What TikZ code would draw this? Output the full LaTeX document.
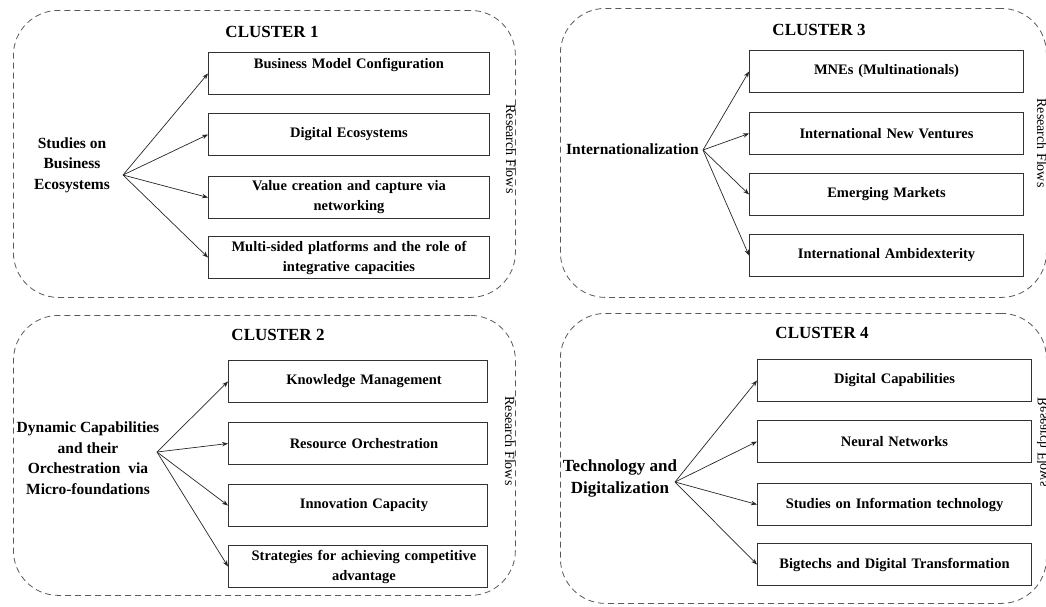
\documentclass[tikz,border=0pt]{standalone}
\usepackage{fontspec}
\setmainfont{Liberation Serif}
\usetikzlibrary{arrows.meta}
\begin{document}
\begin{tikzpicture}[x=1pt, y=-1pt,
  cluster/.style={draw=black!65, dash pattern=on 6pt off 4pt, line width=0.8pt,
    rounded corners=45pt, inner sep=0pt, anchor=north west},
  topic/.style={draw=black!80, line width=1pt, inner sep=0pt, minimum height=42pt,
    anchor=north west, align=center, font=\fontsize{14.5}{20}\selectfont\bfseries},
  title/.style={font=\fontsize{17}{20}\selectfont\bfseries},
  theme/.style={font=\fontsize{15.5}{20.5}\selectfont\bfseries, align=center, inner sep=0pt},
  flows/.style={font=\fontsize{14}{16}\selectfont, inner sep=0pt},
  arr/.style={draw=black!85, line width=0.7pt, -{Stealth[length=6pt,width=4.5pt]}}
]
\useasboundingbox (0,0) rectangle (1046,606);
\clip (0,0) rectangle (1046,606);

% ---------- cluster frames ----------
\node[cluster, minimum width=502pt, minimum height=287pt] (cl1) at (13,10) {};
\node[cluster, minimum width=502pt, minimum height=280pt] (cl2) at (13,315) {};
\node[cluster, minimum width=486pt, minimum height=289pt] (cl3) at (560,8) {};
\node[cluster, minimum width=486pt, minimum height=290pt] (cl4) at (560,313) {};

% ---------- titles ----------
\node[title] (t1) at (272,32) {CLUSTER 1};
\node[title] (t2) at (278,335) {CLUSTER 2};
\node[title] (t3) at (819,30) {CLUSTER 3};
\node[title] (t4) at (822,333) {CLUSTER 4};

% ---------- side captions ----------
\node[flows, rotate=-90] (f1) at (511,149) {Research Flows};
\node[flows, rotate=-90] (f2) at (510,441) {Research Flows};
\node[flows, rotate=-90] (f3) at (1042,143) {Research Flows};
\node[flows, yscale=-1, rotate=90] (f4) at (1042,442) {Research Flows};

% ---------- cluster 1 ----------
\node[theme] (m1) at (72,165) {Studies on\\Business\\Ecosystems};
\coordinate (o1) at (123,175);
\begin{scope}[every node/.append style={topic, minimum width=281pt, text width=269pt}]
\node (a1) at (208,52)  {Business Model Configuration\\\mbox{}};
\node (a2) at (208,113) {Digital Ecosystems};
\node (a3) at (208,176) {Value creation and capture via\\networking};
\node (a4) at (208,236) {Multi-sided platforms and the role of\\integrative capacities};
\end{scope}
\foreach \b in {a1,a2,a3,a4} \draw[arr] (o1) -- (\b.west);

% ---------- cluster 2 ----------
\node[theme] (m2) at (88,458) {Dynamic Capabilities\\and their\\Orchestration~ via\\Micro-foundations};
\coordinate (o2) at (157,452);
\begin{scope}[every node/.append style={topic, minimum width=259pt, text width=247pt}]
\node (b1) at (228,360) {\hspace*{12pt}Knowledge Management};
\node (b2) at (228,422) {\hspace*{12pt}Resource Orchestration};
\node (b3) at (228,484) {\hspace*{12pt}Innovation Capacity};
\node (b4) at (228,545) {\hspace*{12pt}Strategies for achieving competitive\\\hspace*{12pt}advantage};
\end{scope}
\foreach \b in {b1,b2,b3,b4} \draw[arr] (o2) -- (\b.west);

% ---------- cluster 3 ----------
\node[theme] (m3) at (632.5,149) {Internationalization};
\coordinate (o3) at (703,150);
\begin{scope}[every node/.append style={topic, minimum width=274pt, text width=262pt}]
\node (c1) at (749,50)  {MNEs (Multinationals)};
\node (c2) at (749,112) {International New Ventures};
\node (c3) at (749,173) {Emerging Markets};
\node (c4) at (749,234) {International Ambidexterity};
\end{scope}
\foreach \b in {c1,c2,c3,c4} \draw[arr] (o3) -- (\b.west);

% ---------- cluster 4 ----------
\node[theme, font=\fontsize{17}{22}\selectfont\bfseries] (m4) at (620,478) {Technology and\\Digitalization};
\coordinate (o4) at (675,482);
\begin{scope}[every node/.append style={topic, minimum width=274pt, text width=262pt}]
\node (d1) at (757,359) {Digital Capabilities};
\node (d2) at (757,420) {Neural Networks};
\node (d3) at (757,483) {Studies on Information technology};
\node (d4) at (757,543) {Bigtechs and Digital Transformation};
\end{scope}
\foreach \b in {d1,d2,d3,d4} \draw[arr] (o4) -- (\b.west);
\end{tikzpicture}
\end{document}
